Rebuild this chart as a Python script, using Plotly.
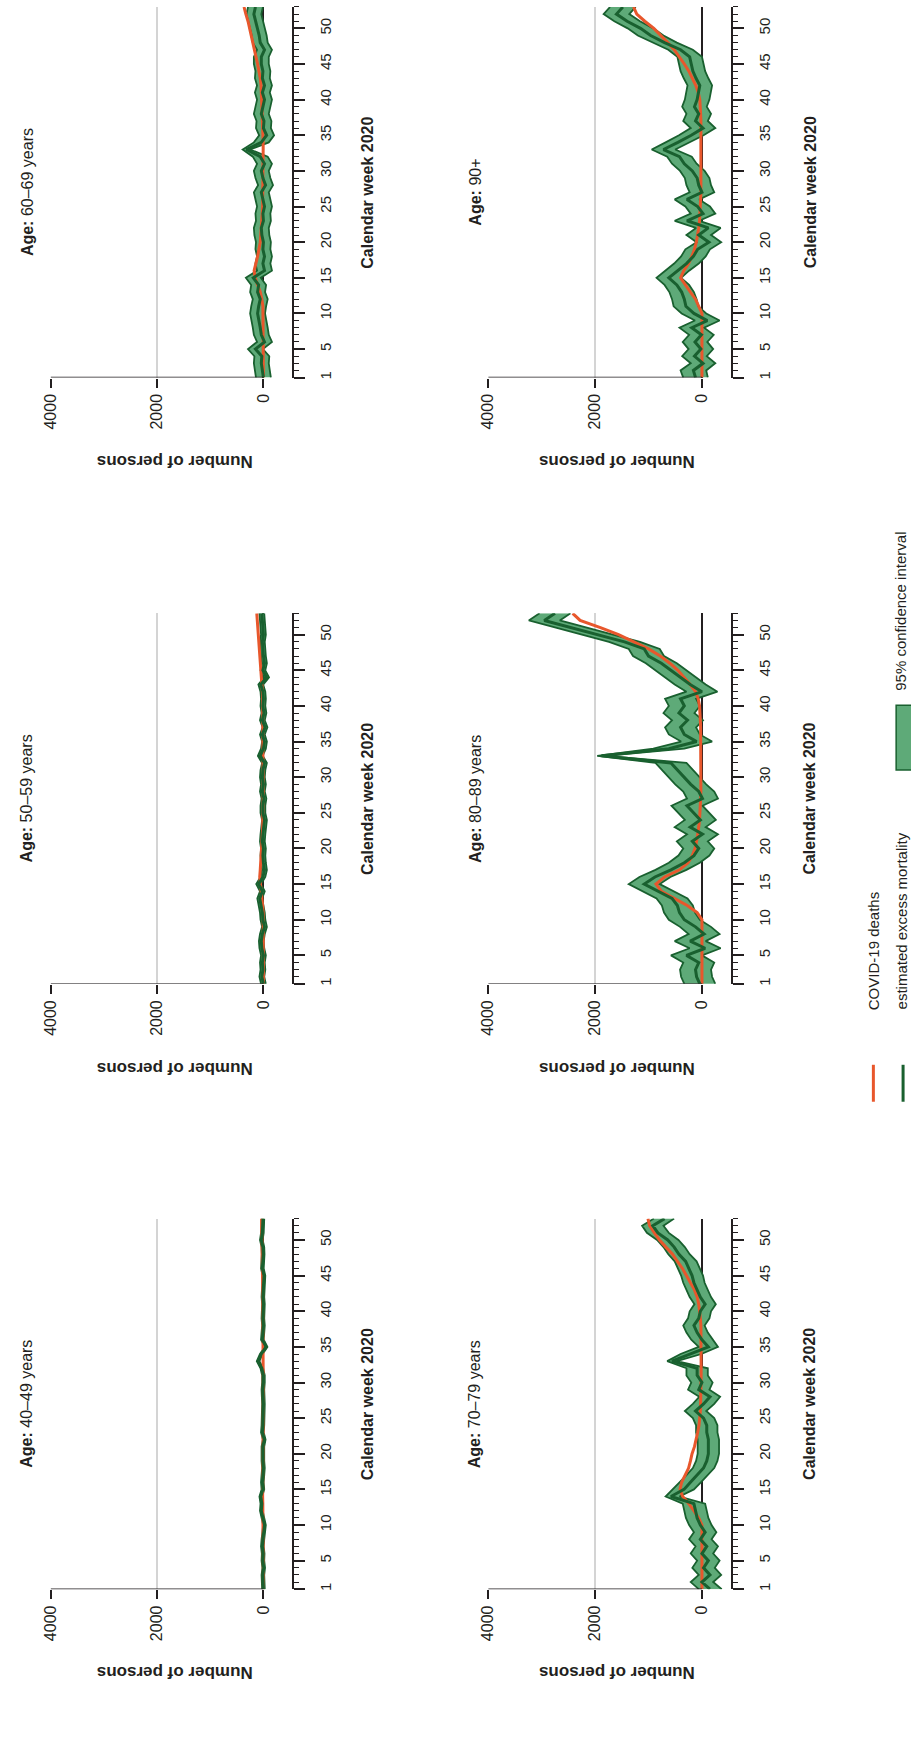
import plotly.graph_objects as go

# ---------------------------------------------------------------
# Weekly deaths 2020 by age group: COVID-19 deaths, estimated excess
# mortality and its 95% confidence interval (calendar weeks 1-53).
# The page is laid out in portrait form: the value axis runs from
# right (0) to left (4000) and the week axis runs upward.
# ---------------------------------------------------------------

weeks = list(range(1, 54))
week_ticks = [1, 5, 10, 15, 20, 25, 30, 35, 40, 45, 50]
value_ticks = [0, 2000, 4000]

# ---- Age 60-69 ----
covid_60 = [0, 0, 0, 0, 0, 0, 0, 0, 0, 0,
            10, 30, 60, 110, 155, 175, 140, 110, 85, 60,
            50, 40, 30, 20, 15, 15, 10, 10, 10, 10,
            5, 5, 5, 5, 10, 10, 10, 15, 20, 25,
            30, 45, 60, 80, 110, 140, 170, 200, 225, 255,
            290, 330, 365]
excess_60 = [0, 20, 40, 30, 150, -20, 40, 60, 80, 110,
             90, 60, 110, 90, 190, -20, 10, -20, 10, 0,
             30, 40, 0, 10, -20, 10, 40, -40, 10, 40,
             -20, 60, 320, 40, -60, 0, -10, 40, 10, -20,
             20, -20, 20, 10, 40, 40, -20, 60, 80, 110,
             150, 180, 150]
lo_60 = [-140, -120, -100, -110, 10, -160, -100, -80, -60, -30,
         -50, -80, -30, -50, 50, -160, -130, -160, -130, -140,
         -110, -100, -140, -130, -160, -130, -100, -180, -130, -100,
         -160, -80, 250, -100, -200, -140, -150, -100, -130, -160,
         -120, -160, -120, -130, -100, -100, -160, -80, -60, -30,
         10, 40, 10]
hi_60 = [140, 160, 180, 170, 290, 120, 180, 200, 220, 250,
         230, 200, 250, 230, 330, 120, 150, 120, 150, 140,
         170, 180, 140, 150, 120, 150, 180, 100, 150, 180,
         120, 200, 390, 180, 80, 140, 130, 180, 150, 120,
         160, 120, 160, 150, 180, 180, 120, 200, 220, 250,
         290, 320, 290]

# ---- Age 90+ ----
covid_90 = [0, 0, 0, 0, 0, 0, 0, 0, 0, 0,
            60, 120, 215, 305, 400, 340, 250, 190, 140, 105,
            80, 60, 45, 35, 30, 25, 20, 20, 15, 15,
            10, 10, 10, 10, 15, 15, 20, 25, 30, 40,
            70, 115, 180, 245, 330, 430, 520, 640, 770, 900,
            1070, 1220, 1280]
excess_90 = [120, 160, -20, 140, 20, 130, 10, 190, -100, 150,
             300, 330, 380, 470, 620, 460, 290, 160, 80, -130,
             60, -120, 280, -20, 80, 280, 0, 60, 90, 180,
             330, 420, 720, 450, 200, -20, 120, 60, 140, 90,
             70, 40, 110, 170, 200, 230, 400, 700, 960, 1150,
             1400, 1600, 1480]
lo_90 = [-110, -80, -250, -90, -210, -100, -220, -40, -330, -80,
         70, 100, 150, 240, 390, 240, 60, -70, -150, -360,
         -170, -350, 50, -250, -150, 50, -230, -170, -140, -50,
         100, 190, 500, 220, -30, -250, -110, -170, -90, -140,
         -160, -190, -120, -60, -30, 0, 170, 470, 720, 910,
         1160, 1360, 1240]
hi_90 = [350, 400, 210, 370, 250, 360, 240, 420, 130, 380,
         530, 560, 610, 700, 850, 690, 520, 390, 310, 100,
         290, 110, 510, 210, 310, 510, 230, 290, 320, 410,
         560, 650, 940, 680, 430, 210, 350, 290, 370, 320,
         300, 270, 340, 400, 430, 460, 630, 930, 1200, 1390,
         1640, 1840, 1720]

# ---- Age 50-59 ----
covid_50 = [0, 0, 0, 0, 0, 0, 0, 0, 0, 0,
            5, 15, 30, 45, 60, 70, 60, 50, 40, 30,
            25, 20, 15, 10, 10, 8, 5, 5, 5, 5,
            5, 5, 5, 5, 5, 5, 5, 8, 10, 12,
            15, 20, 30, 40, 50, 60, 70, 80, 90, 100,
            110, 120, 125]
excess_50 = [0, 30, 10, 20, 0, 30, 40, 20, -20, 10,
             20, 40, 70, 20, 90, 10, -20, 0, 10, 0,
             20, 10, 0, -20, 10, 10, -10, 20, 0, 20,
             10, -20, 60, 0, -20, 20, -30, 20, -10, 10,
             0, 10, 50, -60, 10, -20, 0, 10, 20, 0,
             10, 20, 30]
lo_50 = [-45, -15, -35, -25, -45, -15, -5, -25, -65, -35,
         -25, -5, 25, -25, 45, -35, -65, -45, -35, -45,
         -25, -35, -45, -65, -35, -35, -55, -25, -45, -25,
         -35, -65, 15, -45, -65, -25, -75, -25, -55, -35,
         -45, -35, 5, -105, -35, -65, -45, -35, -25, -45,
         -35, -25, -15]
hi_50 = [45, 75, 55, 65, 45, 75, 85, 65, 25, 55,
         65, 85, 115, 65, 135, 55, 25, 45, 55, 45,
         65, 55, 45, 25, 55, 55, 35, 65, 45, 65,
         55, 25, 105, 45, 25, 65, 15, 65, 35, 55,
         45, 55, 95, -15, 55, 25, 45, 55, 65, 45,
         55, 65, 75]

# ---- Age 80-89 ----
covid_80 = [0, 0, 0, 0, 0, 0, 0, 0, 0, 0,
            90, 275, 520, 760, 860, 700, 420, 260, 180, 130,
            100, 75, 60, 45, 35, 30, 25, 20, 20, 15,
            15, 15, 15, 15, 20, 20, 25, 30, 35, 45,
            70, 120, 220, 340, 450, 600, 780, 1000, 1270, 1560,
            1900, 2280, 2420]
excess_80 = [40, 100, 120, 60, 290, -60, 220, -40, 120, 330,
             420, 460, 560, 820, 1080, 880, 580, 330, 150, 60,
             180, -10, 220, 30, 150, 280, -10, 60, 210, 330,
             460, 580, 1880, 620, 100, 330, 400, 270, 430, 330,
             400, 0, 220, 400, 580, 760, 1000, 1080, 1450, 1950,
             2480, 2950, 2750]
lo_80 = [-250, -190, -170, -230, 0, -350, -70, -330, -170, 40,
         130, 170, 270, 530, 790, 590, 290, 40, -140, -230,
         -110, -300, -70, -260, -140, -10, -300, -230, -80, 40,
         170, 290, 1800, 330, -190, 40, 110, -20, 140, 40,
         110, -290, -70, 110, 290, 470, 710, 790, 1160, 1660,
         2190, 2660, 2460]
hi_80 = [330, 390, 410, 350, 580, 230, 510, 250, 410, 620,
         710, 750, 850, 1110, 1370, 1170, 870, 620, 440, 350,
         470, 280, 510, 320, 440, 570, 280, 350, 500, 620,
         750, 870, 1960, 910, 390, 620, 690, 560, 720, 620,
         690, 290, 510, 690, 870, 1050, 1290, 1370, 1740, 2240,
         2770, 3240, 3040]

# ---- Age 40-49 ----
covid_40 = [0, 0, 0, 0, 0, 0, 0, 0, 0, 0,
            3, 8, 12, 15, 18, 15, 12, 10, 8, 6,
            5, 5, 4, 4, 4, 3, 3, 3, 3, 3,
            3, 3, 3, 3, 3, 3, 4, 4, 5, 6,
            8, 10, 12, 15, 18, 20, 22, 25, 28, 30,
            32, 35, 35]
excess_40 = [0, 0, 10, -5, 10, 5, 20, 10, 0, -20,
             10, 40, 30, 50, 10, 20, 10, 0, 10, 5,
             10, -15, 20, 10, 5, 10, 0, 5, 10, 0,
             0, 30, 100, 40, -50, 20, 10, 0, 10, 5,
             0, 10, 5, 0, -10, 20, 10, 5, 10, 40,
             20, 10, 10]
lo_40 = [-25, -25, -15, -30, -15, -20, -5, -15, -25, -45,
         -15, 15, 5, 25, -15, -5, -15, -25, -15, -20,
         -15, -40, -5, -15, -20, -15, -25, -20, -15, -25,
         -25, 5, 75, 15, -75, -5, -15, -25, -15, -20,
         -25, -15, -20, -25, -35, -5, -15, -20, -15, 15,
         -5, -15, -15]
hi_40 = [25, 25, 35, 20, 35, 30, 45, 35, 25, 5,
         35, 65, 55, 75, 35, 45, 35, 25, 35, 30,
         35, 10, 45, 35, 30, 35, 25, 30, 35, 25,
         25, 55, 125, 65, -25, 45, 35, 25, 35, 30,
         25, 35, 30, 25, 15, 45, 35, 30, 35, 65,
         45, 35, 35]

# ---- Age 70-79 ----
covid_70 = [0, 0, 0, 0, 0, 0, 0, 0, 0, 0,
            60, 150, 245, 360, 410, 380, 310, 250, 215, 185,
            140, 105, 80, 55, 40, 30, 25, 20, 20, 15,
            15, 15, 15, 15, 15, 15, 20, 20, 30, 40,
            60, 90, 140, 215, 290, 365, 460, 550, 675, 795,
            890, 980, 1010]
excess_70 = [-150, 0, -150, -30, -120, 0, -90, 30, -60, 30,
             90, 120, 150, 580, 335, 215, 90, -30, -90, -120,
             -120, -120, -90, -90, -30, 120, -30, -150, 60, 0,
             90, 90, 560, 200, -120, 0, 90, 150, 60, 30,
             -60, 30, 90, 150, 185, 245, 305, 430, 520, 640,
             825, 920, 700]
lo_70 = [-370, -210, -360, -240, -330, -210, -300, -180, -270, -180,
         -120, -90, -60, 420, 150, 20, -110, -230, -290, -320,
         -320, -320, -290, -290, -230, -80, -230, -340, -140, -200,
         -110, -110, 470, 10, -300, -200, -110, -50, -140, -170,
         -260, -170, -110, -50, -20, 40, 100, 230, 320, 440,
         620, 720, 520]
hi_70 = [60, 210, 60, 180, 90, 210, 120, 240, 150, 240,
         300, 330, 360, 680, 540, 420, 290, 170, 110, 80,
         80, 80, 110, 110, 170, 320, 170, 50, 260, 200,
         290, 290, 650, 400, 60, 200, 290, 350, 260, 230,
         140, 230, 290, 350, 390, 450, 510, 630, 720, 840,
         1030, 1120, 900]

# panel title, data, column index, row index
panels = [
    ("<b>Age:</b> 60–69 years", covid_60, excess_60, lo_60, hi_60, 0, 0),
    ("<b>Age:</b> 90+", covid_90, excess_90, lo_90, hi_90, 1, 0),
    ("<b>Age:</b> 50–59 years", covid_50, excess_50, lo_50, hi_50, 0, 1),
    ("<b>Age:</b> 80–89 years", covid_80, excess_80, lo_80, hi_80, 1, 1),
    ("<b>Age:</b> 40–49 years", covid_40, excess_40, lo_40, hi_40, 0, 2),
    ("<b>Age:</b> 70–79 years", covid_70, excess_70, lo_70, hi_70, 1, 2),
]

# ---- styling ----
W, H = 911, 1749
FONT = "Liberation Sans, Arial, sans-serif"
TEXT = "#231f20"
AXIS = "#231f20"
GRID = "#d4d4d4"
ORANGE = "#e8572c"
DARK = "#19602f"
BAND = "#5eaa78"

VALUE_MAX, VALUE_MIN = 4000, -540

# pixel placement of the panels
col_x = [(42, 286), (484, 729)]               # left edge (4000) .. week axis
row_y = [(7, 378), (614, 985), (1220, 1591)]  # week 53 .. week 1
title_x = [18, 471]
weektitle_x = [362, 809]
valuetitle_x = [167, 614]


def fx(p):
    return p / W


def fy(p):
    return 1 - p / H


fig = go.Figure()
layout = dict(
    width=W, height=H,
    margin=dict(l=0, r=0, t=0, b=0),
    paper_bgcolor="white", plot_bgcolor="rgba(0,0,0,0)",
    showlegend=False,
    font=dict(family=FONT, color=TEXT, size=16),
)
shapes = []
annotations = []

for i, (title, covid, excess, lo, hi, c, r) in enumerate(panels):
    k = i + 1
    sfx = "" if k == 1 else str(k)
    xa, ya = "x" + sfx, "y" + sfx
    x0, x1 = col_x[c]
    ytop, ybot = row_y[r]

    fig.add_trace(go.Scatter(x=lo, y=weeks, xaxis=xa, yaxis=ya, mode="lines",
                             line=dict(color=DARK, width=1.8), hoverinfo="skip"))
    fig.add_trace(go.Scatter(x=hi, y=weeks, xaxis=xa, yaxis=ya, mode="lines",
                             fill="tonextx", fillcolor=BAND,
                             line=dict(color=DARK, width=1.8), hoverinfo="skip"))
    fig.add_trace(go.Scatter(x=covid, y=weeks, xaxis=xa, yaxis=ya, mode="lines",
                             line=dict(color=ORANGE, width=3), name="COVID-19 deaths"))
    fig.add_trace(go.Scatter(x=excess, y=weeks, xaxis=xa, yaxis=ya, mode="lines",
                             line=dict(color=DARK, width=3),
                             name="estimated excess mortality"))

    layout["xaxis" + sfx] = dict(
        domain=[fx(x0), fx(x1)], range=[VALUE_MAX, VALUE_MIN], anchor=ya,
        tickmode="array", tickvals=value_ticks,
        ticktext=[str(v) for v in value_ticks], tickangle=-90,
        ticks="outside", ticklen=9, tickwidth=1.5, tickcolor=AXIS,
        showgrid=True, gridcolor=GRID, gridwidth=1.5,
        zeroline=True, zerolinecolor=AXIS, zerolinewidth=1.5,
        showline=False, tickfont=dict(size=16), fixedrange=True,
    )
    layout["yaxis" + sfx] = dict(
        domain=[fy(ybot), fy(ytop)], range=[1, 53], anchor=xa, side="right",
        showline=True, linecolor=AXIS, linewidth=1.5,
        tickmode="array", tickvals=week_ticks,
        ticks="outside", ticklen=11, tickwidth=1.5, tickcolor=AXIS,
        minor=dict(tick0=1, dtick=1, ticks="outside", ticklen=5,
                   tickwidth=1.2, tickcolor=AXIS, showgrid=False),
        tickangle=-90, showgrid=False, zeroline=False,
        tickfont=dict(size=15), ticklabelstandoff=8, fixedrange=True,
    )

    # value axis line from 0 to 4000 at week 1
    shapes.append(dict(type="line", xref=xa, yref=ya, x0=0, x1=VALUE_MAX,
                       y0=1, y1=1, line=dict(color=AXIS, width=1.5)))

    ymid = (ytop + ybot) / 2
    annotations.append(dict(text=title, x=fx(title_x[c]), y=fy(ymid),
                            xref="paper", yref="paper", showarrow=False,
                            textangle=-90, xanchor="center", yanchor="middle",
                            font=dict(size=16)))
    annotations.append(dict(text="<b>Calendar week 2020</b>",
                            x=fx(weektitle_x[c]), y=fy(ymid),
                            xref="paper", yref="paper", showarrow=False,
                            textangle=-90, xanchor="center", yanchor="middle",
                            font=dict(size=16)))
    annotations.append(dict(text="<b>Number of persons</b>",
                            x=fx(valuetitle_x[c]), y=fy(ybot + 84),
                            xref="paper", yref="paper", showarrow=False,
                            textangle=180, xanchor="center", yanchor="middle",
                            font=dict(size=17)))

# ---- legend ----
shapes.append(dict(type="line", xref="paper", yref="paper",
                   x0=fx(873), x1=fx(873), y0=fy(1066), y1=fy(1103),
                   line=dict(color=ORANGE, width=3)))
shapes.append(dict(type="line", xref="paper", yref="paper",
                   x0=fx(903), x1=fx(903), y0=fy(1066), y1=fy(1103),
                   line=dict(color=DARK, width=3)))
shapes.append(dict(type="rect", xref="paper", yref="paper",
                   x0=fx(896), x1=fx(918), y0=fy(771), y1=fy(706),
                   fillcolor=BAND, line=dict(color=DARK, width=1.5)))
for label, lx, ly in [("COVID-19 deaths", 873, 1013),
                      ("estimated excess mortality", 901, 1013),
                      ("95% confidence interval", 901, 694)]:
    annotations.append(dict(text=label, x=fx(lx), y=fy(ly),
                            xref="paper", yref="paper", showarrow=False,
                            textangle=-90, xanchor="center", yanchor="bottom",
                            font=dict(size=15)))

layout["shapes"] = shapes
layout["annotations"] = annotations
fig.update_layout(**layout)

fig.write_html("out.html")
